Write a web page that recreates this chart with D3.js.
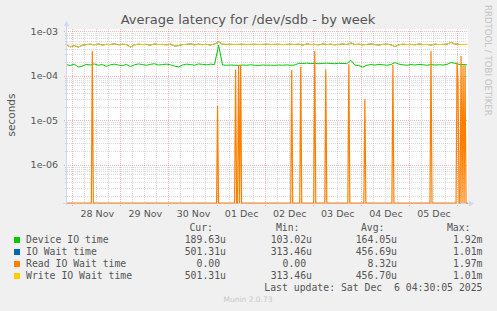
<!DOCTYPE html>
<html><head><meta charset="utf-8">
<script src="https://cdn.jsdelivr.net/npm/d3@7"></script>
<style>
body{margin:0;background:#F0F0F0}
svg text{font-family:"DejaVu Sans",sans-serif}
.mono{font-family:"DejaVu Sans Mono",monospace !important;white-space:pre}
</style>
</head><body><svg id="chart" width="497" height="311"></svg>
<script>
// ---------------- data ----------------
const chartTitle = "Average latency for /dev/sdb - by week";
const yAxisTitle = "seconds";
const sideText = "RRDTOOL / TOBI OETIKER";
const footerText = "Munin 2.0.73";
const lastUpdate = "Last update: Sat Dec  6 04:30:05 2025";

const seriesNames  = ["Device IO time", "IO Wait time", "Read IO Wait time", "Write IO Wait time"];
const seriesColors = ["#00CC00", "#0066B3", "#FF8000", "#FFCC00"];
const curValues = ["189.63u", "501.31u", "0.00", "501.31u"];
const minValues = ["103.02u", "313.46u", "0.00", "313.46u"];
const avgValues = ["164.05u", "456.69u", "8.32u", "456.70u"];
const maxValues = ["1.92m", "1.01m", "1.97m", "1.01m"];
const statHeaders = ["Cur:", "Min:", "Avg:", "Max:"];

const yTickValues = [1e-3, 1e-4, 1e-5, 1e-6];
const yTickLabels = ["1e-03", "1e-04", "1e-05", "1e-06"];
const dayLabels = ["28 Nov", "29 Nov", "30 Nov", "01 Dec", "02 Dec", "03 Dec", "04 Dec", "05 Dec"];
const dayDates  = ["2025-11-28", "2025-11-29", "2025-11-30", "2025-12-01", "2025-12-02", "2025-12-03", "2025-12-04", "2025-12-05"];

// regular series: one sample every 2 hours starting at seriesStart
const seriesStart = "2025-11-27T21:00:00Z";
const seriesStepHours = 2;
const deviceIO = [
  1.75e-4,1.68e-4,1.80e-4,1.55e-4,1.62e-4,1.78e-4,1.72e-4,1.82e-4,1.70e-4,1.76e-4,
  1.60e-4,1.74e-4,1.80e-4,1.72e-4,1.66e-4,1.78e-4,1.58e-4,1.74e-4,1.82e-4,1.76e-4,
  1.70e-4,1.78e-4,1.84e-4,1.72e-4,1.76e-4,1.80e-4,1.74e-4,1.62e-4,1.56e-4,1.72e-4,
  1.80e-4,1.76e-4,1.70e-4,1.82e-4,1.78e-4,1.74e-4,1.80e-4,1.76e-4,4.80e-4,1.72e-4,
  1.70e-4,1.72e-4,1.70e-4,1.68e-4,1.72e-4,1.70e-4,1.74e-4,1.70e-4,1.68e-4,1.72e-4,
  1.70e-4,1.71e-4,1.69e-4,1.72e-4,1.70e-4,1.73e-4,1.70e-4,1.72e-4,1.88e-4,1.86e-4,
  1.90e-4,1.85e-4,1.88e-4,1.84e-4,1.87e-4,1.90e-4,1.86e-4,1.84e-4,1.88e-4,1.86e-4,
  1.85e-4,2.20e-4,1.72e-4,1.66e-4,1.55e-4,1.70e-4,1.76e-4,1.72e-4,1.78e-4,1.74e-4,
  1.70e-4,1.76e-4,1.95e-4,1.80e-4,1.74e-4,1.70e-4,1.76e-4,1.72e-4,1.78e-4,1.74e-4,
  1.70e-4,1.76e-4,1.72e-4,1.74e-4,1.72e-4,1.78e-4,1.96e-4,1.88e-4,1.78e-4,1.76e-4,
  1.74e-4
];
const writeWait = [
  4.85e-4,4.40e-4,4.70e-4,4.35e-4,4.80e-4,4.95e-4,5.05e-4,4.90e-4,5.10e-4,4.85e-4,
  5.00e-4,4.95e-4,5.15e-4,4.90e-4,5.05e-4,4.95e-4,4.35e-4,4.90e-4,5.05e-4,4.95e-4,
  5.00e-4,4.85e-4,5.10e-4,4.95e-4,5.00e-4,4.90e-4,5.05e-4,4.60e-4,4.70e-4,4.95e-4,
  5.00e-4,5.15e-4,4.90e-4,5.05e-4,4.95e-4,5.00e-4,4.85e-4,5.10e-4,5.70e-4,5.05e-4,
  5.00e-4,5.02e-4,4.98e-4,5.00e-4,5.03e-4,4.97e-4,5.00e-4,5.02e-4,4.98e-4,5.00e-4,
  5.04e-4,4.98e-4,5.00e-4,5.02e-4,4.96e-4,5.00e-4,5.03e-4,4.98e-4,5.05e-4,4.85e-4,
  5.10e-4,4.95e-4,5.00e-4,4.90e-4,5.10e-4,4.95e-4,5.05e-4,4.90e-4,5.00e-4,5.10e-4,
  4.95e-4,5.40e-4,4.95e-4,5.05e-4,4.90e-4,5.00e-4,5.10e-4,4.95e-4,4.85e-4,5.00e-4,
  5.05e-4,4.90e-4,4.45e-4,4.90e-4,5.05e-4,4.95e-4,5.00e-4,4.90e-4,5.10e-4,4.95e-4,
  5.00e-4,4.85e-4,5.05e-4,4.95e-4,5.00e-4,5.05e-4,5.55e-4,5.10e-4,5.00e-4,4.95e-4,
  5.00e-4
];
const ioWait = writeWait.slice(); // IO wait equals write wait (hidden under it)

// read wait: 30-minute slots, zero except these samples [slot index, value]
const readStepMinutes = 30;
const readSlotCount = 402;
const readSpikes = [
  [26, 3.55e-4], [151, 2.07e-5], [169, 1.37e-4], [172, 1.70e-4], [174, 1.70e-4],
  [225, 1.33e-4], [234, 1.58e-4], [248, 3.55e-4], [259, 1.37e-4], [282, 1.80e-4],
  [298, 2.92e-5], [326, 1.72e-4], [364, 3.55e-4], [390, 1.98e-4], [391, 6.7e-5],
  [394, 2.75e-4], [396, 1.70e-4], [398, 1.70e-4]
];

// ---------------- drawing ----------------
const svg = d3.select("#chart");
const W = 497, H = 311;
const plotL = 67, plotR = 467, plotT = 29, plotB = 203;
const textColor = "#555555";
const axisColor = "#CFD6F8";

svg.append("rect").attr("width", W).attr("height", H).attr("fill", "#F0F0F0");

const x = d3.scaleUtc()
  .domain([new Date("2025-11-27T21:22:00Z"), new Date("2025-12-06T04:58:00Z")])
  .range([plotL, plotR]);
const yMin = Math.pow(10, -6.865), yMax = Math.pow(10, -2.955);
const y = d3.scaleLog().domain([yMin, yMax]).range([plotB, plotT]).clamp(true);

svg.append("rect").attr("x", plotL).attr("y", plotT).attr("width", plotR - plotL + 1)
  .attr("height", plotB - plotT).attr("fill", "#FFFFFF");

const grid = svg.append("g").attr("shape-rendering", "crispEdges");
const minorY = [];
for (let d = -7; d <= -3; d++) for (let k = 2; k <= 9; k++) {
  const v = k * Math.pow(10, d);
  if (v > yMin && v < yMax) minorY.push(v);
}
const t0 = x.domain()[0], t1 = x.domain()[1];
const sixH = d3.utcHour.every(6).range(t0, t1);
const minorX = sixH.filter(t => t.getUTCHours() !== 0);
const majorX = sixH.filter(t => t.getUTCHours() === 0);
const minorCol = "#8F8F8F", minorOp = 0.33, majorCol = "#DE5050", majorOp = 0.42;

grid.selectAll(".mx").data(minorX).join("line")
  .attr("x1", d => Math.round(x(d)) + 0.5).attr("x2", d => Math.round(x(d)) + 0.5)
  .attr("y1", plotT).attr("y2", plotB + 2)
  .attr("stroke", minorCol).attr("stroke-opacity", minorOp).attr("stroke-dasharray", "1,1");
grid.selectAll(".my").data(minorY).join("line")
  .attr("x1", plotL - 2).attr("x2", plotR)
  .attr("y1", d => Math.round(y(d)) + 0.5).attr("y2", d => Math.round(y(d)) + 0.5)
  .attr("stroke", minorCol).attr("stroke-opacity", minorOp).attr("stroke-dasharray", "1,1");
grid.selectAll(".Mx").data(majorX).join("line")
  .attr("x1", d => Math.round(x(d)) + 0.5).attr("x2", d => Math.round(x(d)) + 0.5)
  .attr("y1", plotT).attr("y2", plotB + 3)
  .attr("stroke", majorCol).attr("stroke-opacity", majorOp).attr("stroke-dasharray", "1,1");
grid.selectAll(".My").data(yTickValues).join("line")
  .attr("x1", plotL - 3).attr("x2", plotR)
  .attr("y1", d => Math.round(y(d)) + 0.5).attr("y2", d => Math.round(y(d)) + 0.5)
  .attr("stroke", majorCol).attr("stroke-opacity", majorOp).attr("stroke-dasharray", "1,1");

// axes lines + arrows
svg.append("line").attr("x1", plotL - 0.5).attr("x2", plotL - 0.5).attr("y1", plotB + 2).attr("y2", 24)
  .attr("stroke", axisColor);
svg.append("line").attr("x1", plotL - 4).attr("x2", 470).attr("y1", plotB + 0.5).attr("y2", plotB + 0.5)
  .attr("stroke", axisColor);
svg.append("path").attr("d", `M${plotL - 3},26 L${plotL - 0.5},20.5 L${plotL + 2},26 Z`).attr("fill", axisColor);
svg.append("path").attr("d", `M469,200.5 L474,203.5 L469,206.5 Z`).attr("fill", axisColor);

// series
svg.append("clipPath").attr("id", "clip").append("rect")
  .attr("x", plotL).attr("y", plotT - 2).attr("width", plotR - plotL + 1).attr("height", plotB - plotT + 3);
const g = svg.append("g").attr("clip-path", "url(#clip)");
const start = new Date(seriesStart);
const regTime = i => d3.utcHour.offset(start, i * seriesStepHours);
const line = d3.line().x(d => x(d.t)).y(d => y(Math.max(d.v, yMin)));

const readValues = new Array(readSlotCount).fill(0);
readSpikes.forEach(([i, v]) => { readValues[i] = v; });
const readPts = readValues.map((v, i) => ({t: d3.utcMinute.offset(start, i * readStepMinutes), v}));

const toPts = arr => arr.map((v, i) => ({t: regTime(i), v}));
const seriesData = [toPts(deviceIO), toPts(ioWait), readPts, toPts(writeWait)];
seriesData.forEach((pts, si) => {
  g.append("path").datum(pts).attr("d", line).attr("fill", "none")
    .attr("stroke", seriesColors[si]).attr("stroke-width", si === 2 ? 1.2 : 1);
});

// y tick labels
svg.selectAll(".yl").data(yTickValues).join("text")
  .attr("x", 58).attr("y", d => y(d) + 3.5).attr("text-anchor", "end")
  .attr("font-size", 9.5).attr("fill", textColor)
  .text((d, i) => yTickLabels[i]);
// x tick labels (centered at noon)
svg.selectAll(".xl").data(dayDates).join("text")
  .attr("x", d => x(new Date(d + "T12:00:00Z")) + 1).attr("y", 216.5).attr("text-anchor", "middle")
  .attr("font-size", 9.5).attr("fill", textColor)
  .text((d, i) => dayLabels[i]);

// titles
svg.append("text").attr("x", 248).attr("y", 24).attr("text-anchor", "middle")
  .attr("font-size", 13).attr("fill", textColor).text(chartTitle);
svg.append("text").attr("transform", "translate(15,115) rotate(-90)").attr("text-anchor", "middle")
  .attr("font-size", 10.5).attr("fill", textColor).text(yAxisTitle);
svg.append("text").attr("transform", "translate(485,5) rotate(90)").attr("text-anchor", "start")
  .attr("font-size", 8.6).attr("fill", "#C4C4C4").text(sideText);
svg.append("text").attr("x", 248).attr("y", 302).attr("text-anchor", "middle")
  .attr("font-size", 7.5).attr("fill", "#C8C8C8").text(footerText);

// legend
const fs = 9.8;
const charW = fs * 0.602;
const colRight = [226, 312, 397, 482.5];
const headerRight = [213, 299.5, 384.5, 470.5];
statHeaders.forEach((h, c) => {
  svg.append("text").attr("class", "mono").attr("x", headerRight[c]).attr("y", 231)
    .attr("text-anchor", "end").attr("font-size", fs).attr("fill", textColor).text(h);
});
const cols = [curValues, minValues, avgValues, maxValues];
seriesNames.forEach((name, r) => {
  const by = 243.3 + r * 12;
  svg.append("rect").attr("x", 14).attr("y", by - 6.3).attr("width", 6).attr("height", 6)
    .attr("fill", seriesColors[r]);
  svg.append("text").attr("class", "mono").attr("x", 26).attr("y", by)
    .attr("font-size", fs).attr("fill", textColor).text(name);
  cols.forEach((col, c) => {
    const s = col[r];
    const hasUnit = /[a-zA-Z]$/.test(s);
    svg.append("text").attr("class", "mono").attr("x", colRight[c] - (hasUnit ? 0 : charW)).attr("y", by)
      .attr("text-anchor", "end").attr("font-size", fs).attr("fill", textColor).text(s);
  });
});
svg.append("text").attr("class", "mono").attr("x", 482.5).attr("y", 291).attr("text-anchor", "end")
  .attr("font-size", fs).attr("fill", textColor).text(lastUpdate);
</script>
</body></html>
